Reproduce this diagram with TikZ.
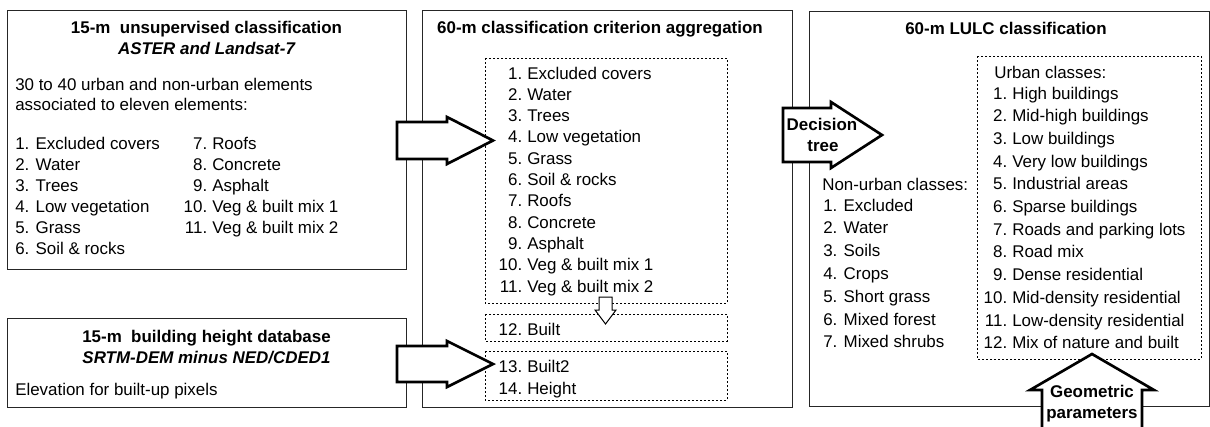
\documentclass[tikz,border=0pt]{standalone}
\usepackage{fontspec}
\setmainfont{Liberation Sans}
\usetikzlibrary{positioning}

\tikzset{
  panel/.style={draw=black!85, line width=0.75pt},
  dotbox/.style={draw, line width=0.75pt, dash pattern=on 1.5pt off 1.5pt},
  blockarrow/.style={draw, fill=white, line width=2pt, line join=miter},
  txt/.style={inner sep=0pt, font=\fontsize{12.7}{15}\selectfont},
  hd/.style={inner sep=0pt, font=\fontsize{12.7}{15}\selectfont\bfseries},
  hdit/.style={inner sep=0pt, font=\fontsize{12.7}{15}\selectfont\bfseries\itshape},
}

\begin{document}
\begin{tikzpicture}[x=0.75pt,y=-0.75pt]
\useasboundingbox (0,0) rectangle (1210,426);

% panels
\draw[panel] (7,10) rectangle (406,269);
\draw[panel] (7,318) rectangle (406,407);
\draw[panel] (422,10) rectangle (792,407);
\draw[panel] (809,11) rectangle (1209,406);

% dotted groups
\draw[dotbox] (485,58) rectangle (727,303);
\draw[dotbox] (485,314) rectangle (727,341);
\draw[dotbox] (485,351) rectangle (727,400);
\draw[dotbox] (977,56) rectangle (1201,359);

% block arrows
\draw[blockarrow] (397,122) -- (447,122) -- (447,117) -- (493,140.5) -- (447,164) -- (447,159) -- (397,159) -- cycle;
\draw[blockarrow] (397,346) -- (447,346) -- (447,341) -- (493,364) -- (447,387) -- (447,382) -- (397,382) -- cycle;
\draw[blockarrow] (783,108) -- (831,108) -- (831,102) -- (882,135) -- (831,168) -- (831,162) -- (783,162) -- cycle;
\draw[blockarrow] (1042,440) -- (1042,390) -- (1030,390) -- (1092,354) -- (1154,390) -- (1142,390) -- (1142,440) -- cycle;
\draw[fill=white, line width=0.75pt] (599,297) -- (612,297) -- (612,310) -- (616,310) -- (605.5,324) -- (595,310) -- (599,310) -- cycle;

% unsupervised classification
\node[hd, anchor=base] (unsupT) at (206.5,33) {15-m~ unsupervised classification};
\node[hdit, anchor=base] (unsupS) at (206.5,54) {ASTER and Landsat-7};
\node[txt, anchor=base west] (unsupA) at (15,90) {30 to 40 urban and non-urban elements};
\node[txt, anchor=base west] (unsupB) at (15,110) {associated to eleven elements:};
\foreach \t [count=\n] in {Excluded covers, Water, Trees, Low vegetation, Grass, Soil \& rocks}
  \node[txt, anchor=base west] (elemA\n) at (15,{149+21*(\n-1)}) {\n. \t};
\foreach \t [count=\i] in {Roofs, Concrete, Asphalt, Veg \& built mix 1, Veg \& built mix 2} {
  \pgfmathtruncatemacro{\n}{\i+6}
  \node[txt, anchor=base east] (numB\n) at (207.5,{149+21*(\i-1)}) {\n.};
  \node[txt, anchor=base west] (elemB\n) at (212,{149+21*(\i-1)}) {\t};
}

% building height
\node[hd, anchor=base] (heightT) at (206.5,342) {15-m~ building height database};
\node[hdit, anchor=base] (heightS) at (206.5,363) {SRTM-DEM minus NED/CDED1};
\node[txt, anchor=base west] (heightA) at (15,395) {Elevation for built-up pixels};

% criterion aggregation
\node[hd, anchor=base] (aggT) at (600,33) {60-m classification criterion aggregation};
\foreach \t [count=\n] in {Excluded covers, Water, Trees, Low vegetation, Grass, Soil \& rocks, Roofs, Concrete, Asphalt, Veg \& built mix 1, Veg \& built mix 2, Built, Built2, Height} {
  \pgfmathsetmacro{\yb}{\n<12 ? 79+21.3*(\n-1) : (\n==12 ? 335 : (\n==13 ? 372 : 394))}
  \node[txt, anchor=base east] (aggN\n) at (522.5,\yb) {\n.};
  \node[txt, anchor=base west] (agg\n) at (527,\yb) {\t};
}

% decision tree / geometric parameters
\node[hd, anchor=base] (dtA) at (822,130) {Decision};
\node[hd, anchor=base] (dtB) at (823,151) {tree};
\node[hd, anchor=base] (geoA) at (1092,397) {Geometric};
\node[hd, anchor=base] (geoB) at (1092,418) {parameters};

% LULC classification
\node[hd, anchor=base] (lulcT) at (1006,34) {60-m LULC classification};
\node[txt, anchor=base west] (nonT) at (822,190) {Non-urban classes:};
\foreach \t [count=\n] in {Excluded, Water, Soils, Crops, Short grass, Mixed forest, Mixed shrubs}
  \node[txt, anchor=base west] (non\n) at (823,{211+22.8*(\n-1)}) {\n. \t};
\node[txt, anchor=base west] (urbT) at (994,78) {Urban classes:};
\foreach \t [count=\n] in {High buildings, Mid-high buildings, Low buildings, Very low buildings, Industrial areas, Sparse buildings, Roads and parking lots, Road mix, Dense residential, Mid-density residential, Low-density residential, Mix of nature and built} {
  \node[txt, anchor=base east] (urbN\n) at (1007.5,{99+22.7*(\n-1)}) {\n.};
  \node[txt, anchor=base west] (urb\n) at (1012,{99+22.7*(\n-1)}) {\t};
}
\end{tikzpicture}
\end{document}
